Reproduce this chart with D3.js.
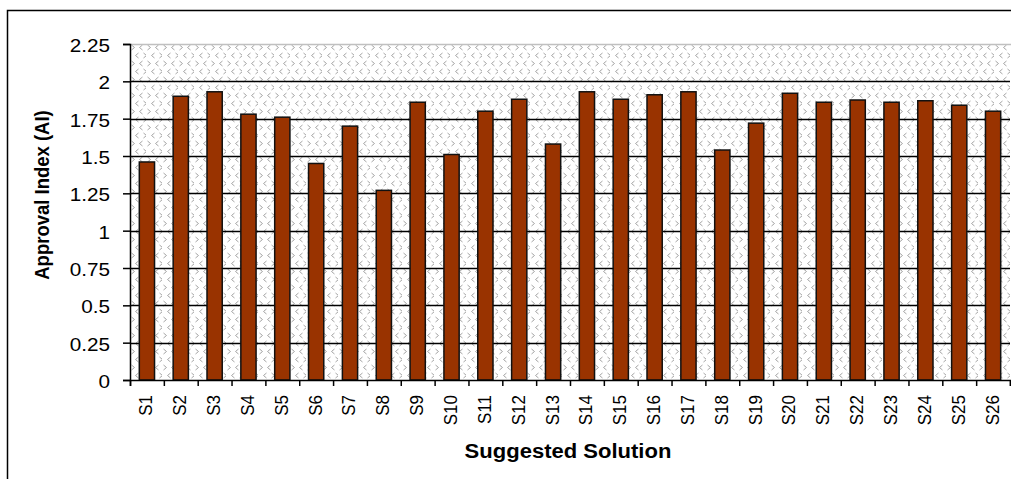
<!DOCTYPE html>
<html>
<head>
<meta charset="utf-8">
<script src="https://cdn.jsdelivr.net/npm/d3@7/dist/d3.min.js"></script>
<style>
  html, body { margin: 0; padding: 0; background: #fff; }
  svg { display: block; }
  text { font-family: "Liberation Sans", Arial, sans-serif; fill: #000; }
</style>
</head>
<body>
<svg id="chart" width="1011" height="479"></svg>
<script>
const categories = ["S1","S2","S3","S4","S5","S6","S7","S8","S9","S10","S11","S12","S13",
  "S14","S15","S16","S17","S18","S19","S20","S21","S22","S23","S24","S25","S26"];
const approvalIndex = [1.46,1.90,1.93,1.78,1.76,1.45,1.70,1.27,1.86,1.51,1.80,1.88,1.58,
  1.93,1.88,1.91,1.93,1.54,1.72,1.92,1.86,1.875,1.86,1.87,1.84,1.80];
const yTicks = [0,0.25,0.5,0.75,1,1.25,1.5,1.75,2,2.25];
const yTickLabels = ["0","0.25","0.5","0.75","1","1.25","1.5","1.75","2","2.25"];
const xTitle = "Suggested Solution";
const yTitle = "Approval Index (AI)";

const svg = d3.select("#chart");
const plot = {left: 130, right: 1010, top: 44, bottom: 380};
const SX = 1.12; // horizontal stretch of the original text

// outer chart border
svg.append("rect").attr("x", 7.5).attr("y", 10.5).attr("width", 1030).attr("height", 500)
  .attr("fill", "#fff").attr("stroke", "#000").attr("stroke-width", 1.5);

// pattern
const defs = svg.append("defs");
const pat = defs.append("pattern").attr("id", "chev").attr("patternUnits", "userSpaceOnUse")
  .attr("width", 16).attr("height", 16).attr("x", plot.left).attr("y", plot.top);
pat.append("rect").attr("width", 16).attr("height", 16).attr("fill", "#fff");
const chevs = [
  {x: 3, y: 1, d: ">"}, {x: 11, y: 1, d: "<"},
  {x: 7, y: 9, d: "<"}, {x: 15, y: 9, d: ">"}
];
chevs.forEach(c => {
  const p = c.d === ">" ? `M${c.x-1.5},${c.y} L${c.x+1.5},${c.y+2.5} L${c.x-1.5},${c.y+5}`
                        : `M${c.x+1.5},${c.y} L${c.x-1.5},${c.y+2.5} L${c.x+1.5},${c.y+5}`;
  pat.append("path").attr("d", p).attr("fill", "none").attr("stroke", "#a6a6a6").attr("stroke-width", 1);
});

const x = d3.scaleBand().domain(categories).range([plot.left, plot.right])
  .paddingInner(0.55).paddingOuter(0.275);
const xEdge = d3.scaleLinear().domain([0, categories.length]).range([plot.left, plot.right]);
const y = d3.scaleLinear().domain([0, 2.25]).range([plot.bottom, plot.top]);

// plot background
svg.append("rect").attr("x", plot.left).attr("y", plot.top)
  .attr("width", plot.right - plot.left).attr("height", plot.bottom - plot.top)
  .attr("fill", "url(#chev)");
svg.append("line").attr("x1", plot.left).attr("x2", plot.right + 5)
  .attr("y1", plot.top + 0.5).attr("y2", plot.top + 0.5)
  .attr("stroke", "#c0c0c0").attr("stroke-width", 1.5);

// gridlines
svg.append("g").selectAll("line").data(yTicks.filter(t => t > 0 && t < 2.25)).join("line")
  .attr("x1", plot.left).attr("x2", plot.right)
  .attr("y1", d => Math.round(y(d)) + 0.5).attr("y2", d => Math.round(y(d)) + 0.5)
  .attr("stroke", "#000").attr("stroke-width", 1.3);

// bars
svg.append("g").selectAll("rect").data(categories).join("rect")
  .attr("x", d => x(d)).attr("width", x.bandwidth())
  .attr("y", (d, i) => y(approvalIndex[i]))
  .attr("height", (d, i) => y(0) - y(approvalIndex[i]))
  .attr("fill", "#993300").attr("stroke", "#111").attr("stroke-width", 1.5);

// y axis
const yAxis = d3.axisLeft(y).tickValues(yTicks).tickSize(7).tickFormat("");
const gy = svg.append("g").attr("transform", `translate(${plot.left},0)`).call(yAxis);
gy.select(".domain").attr("stroke", "#000").attr("stroke-width", 1.5);
gy.selectAll(".tick line").attr("stroke", "#000").attr("stroke-width", 1.5);
svg.append("g").selectAll("text").data(yTicks).join("text")
  .attr("transform", d => `translate(110,${y(d) + 8}) scale(${SX},1)`)
  .attr("text-anchor", "end").attr("font-size", 18.5)
  .text((d, i) => yTickLabels[i]);

// x axis
const xAxis = d3.axisBottom(xEdge).tickValues(d3.range(categories.length + 1)).tickSize(6).tickFormat("");
const gx = svg.append("g").attr("transform", `translate(0,${plot.bottom})`).call(xAxis);
gx.select(".domain").attr("stroke", "#000").attr("stroke-width", 1.5);
gx.selectAll(".tick line").attr("stroke", "#000").attr("stroke-width", 1.5);
svg.append("g").selectAll("text").data(categories).join("text")
  .attr("transform", d => `translate(${x(d) + x.bandwidth() / 2 - 1},395) scale(1.05,1) rotate(-90)`)
  .attr("text-anchor", "end").attr("dy", "0.36em").attr("font-size", 17)
  .text(d => d);

// titles
svg.append("text")
  .attr("transform", `translate(568,458) scale(1.13,1)`)
  .attr("text-anchor", "middle").attr("font-size", 19.5).attr("font-weight", "bold")
  .text(xTitle);
svg.append("text")
  .attr("transform", `translate(49,195) scale(1.1,1) rotate(-90)`)
  .attr("text-anchor", "middle").attr("font-size", 18.5).attr("font-weight", "bold")
  .text(yTitle);
</script>
</body>
</html>
